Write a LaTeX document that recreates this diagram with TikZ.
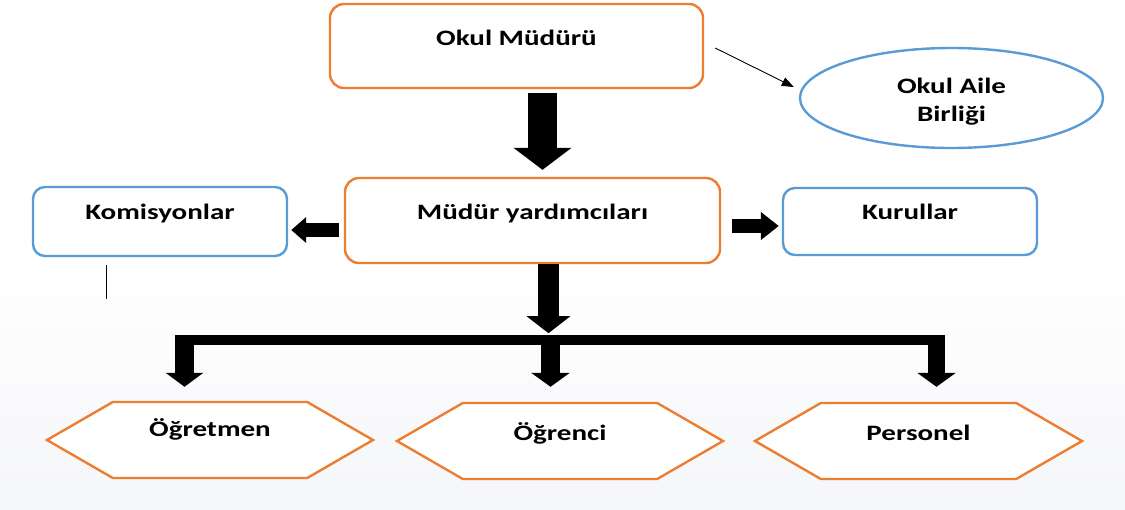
\documentclass[tikz,border=0pt]{standalone}
\usepackage{fontspec}
\setmainfont{Carlito}
\usepackage{graphicx}
\usetikzlibrary{arrows.meta,shapes.geometric,shapes.symbols,calc}
\definecolor{orng}{HTML}{ED7D31}
\definecolor{blu}{HTML}{5B9BD5}
\definecolor{bgbot}{HTML}{F5F6F9}
\newcommand{\sx}[1]{\scalebox{1.32}[1]{#1}}
\begin{document}
\begin{tikzpicture}[x=1pt,y=-1pt,
  txt/.style={font=\fontsize{22}{26}\selectfont\bfseries, text=black, inner sep=0pt, text height=14pt},
  obox/.style={rectangle, draw=orng, line width=2.4pt, fill=white, rounded corners=14pt, txt},
  bbox/.style={rectangle, draw=blu, line width=2.4pt, fill=white, rounded corners=12pt, txt},
  hexa/.style={signal, signal to=west and east, signal pointer angle=60, draw=orng, line width=2.4pt, fill=white, txt},
  blockarrow/.style args={#1/#2/#3}{draw=black, line width=#1, -{Triangle[length=#2, width=#3]}},
  thinarrow/.style={draw=black, line width=0.9pt, -{Triangle[length=12pt,width=9pt]}}
]
\useasboundingbox (0,0) rectangle (1125,509);
\fill[white] (0,0) rectangle (1125,260);
\shade[top color=white, bottom color=bgbot] (0,259) rectangle (1125,509);

% boxes
\node[obox, minimum width=373pt, minimum height=84pt, text depth=16pt] (om) at (516.5,46) {\sx{Okul Müdürü}};
\node[obox, minimum width=375pt, minimum height=85pt, text depth=16.5pt] (my) at (532.5,220.5) {\sx{Müdür yardımcıları}};
\node[bbox, minimum width=254pt, minimum height=69pt, text depth=18.4pt] (kom) at (160,221.5) {\sx{Komisyonlar}};
\node[bbox, minimum width=254pt, minimum height=67pt, text depth=19pt] (kur) at (910,221.5) {\sx{Kurullar}};
\node[ellipse, draw=blu, line width=2.4pt, fill=white, txt, font=\fontsize{22}{28.4}\selectfont\bfseries, text depth=23.4pt, minimum width=303pt, minimum height=100pt] (oab) at (951.5,98) {\begin{tabular}[t]{@{}c@{}}\sx{Okul Aile}\\\sx{Birliği}\end{tabular}};

\node[hexa, minimum width=326pt, minimum height=76pt, text depth=20.6pt] (hx1) at (210,440) {\sx{Öğretmen}};
\node[hexa, minimum width=326pt, minimum height=76pt, text depth=14.6pt] (hx2) at (560,441) {\sx{Öğrenci}};
\node[hexa, minimum width=327pt, minimum height=76pt, text depth=14.6pt] (hx3) at (918.5,441) {\sx{Personel}};

% connectors
\draw[thinarrow] ($(om.east)+(11,2)$) -- ($(oab.west)+(-5,-11)$);
\draw[blockarrow={29pt/22pt/57pt}] ($(om.south)+(26,4)$) -- ($(my.north)+(10,-7)$);
\draw[blockarrow={13.3pt/15pt/25pt}] ($(my.west)+(-5,9.5)$) -- ($(kom.east)+(3,8.5)$);
\draw[blockarrow={13.3pt/18pt/27pt}] ($(my.east)+(11,5.5)$) -- ($(kur.west)+(-3,4.5)$);
\draw[blockarrow={21pt/17pt/43pt}] ($(my.south)+(16,0)$) -- ($(my.south)+(16,69)$);

\coordinate (barL) at (175,340);
\coordinate (barR) at (945,340);
\draw[line width=10pt] (barL) -- (barR);
\coordinate (b1) at (184.5,335);
\coordinate (b2) at (550.5,335);
\coordinate (b3) at (936.5,335);
\draw[blockarrow={19pt/14pt/37pt}, shorten >=14pt] (b1) -- (b1 |- hx1.north);
\draw[blockarrow={19pt/14pt/38pt}, shorten >=15pt] (b2) -- (b2 |- hx2.north);
\draw[blockarrow={17pt/14pt/38pt}, shorten >=15pt] (b3) -- (b3 |- hx3.north);

\draw[line width=1pt] ($(kom.south)+(-54,8)$) -- ++(0,34);
\end{tikzpicture}
\end{document}
